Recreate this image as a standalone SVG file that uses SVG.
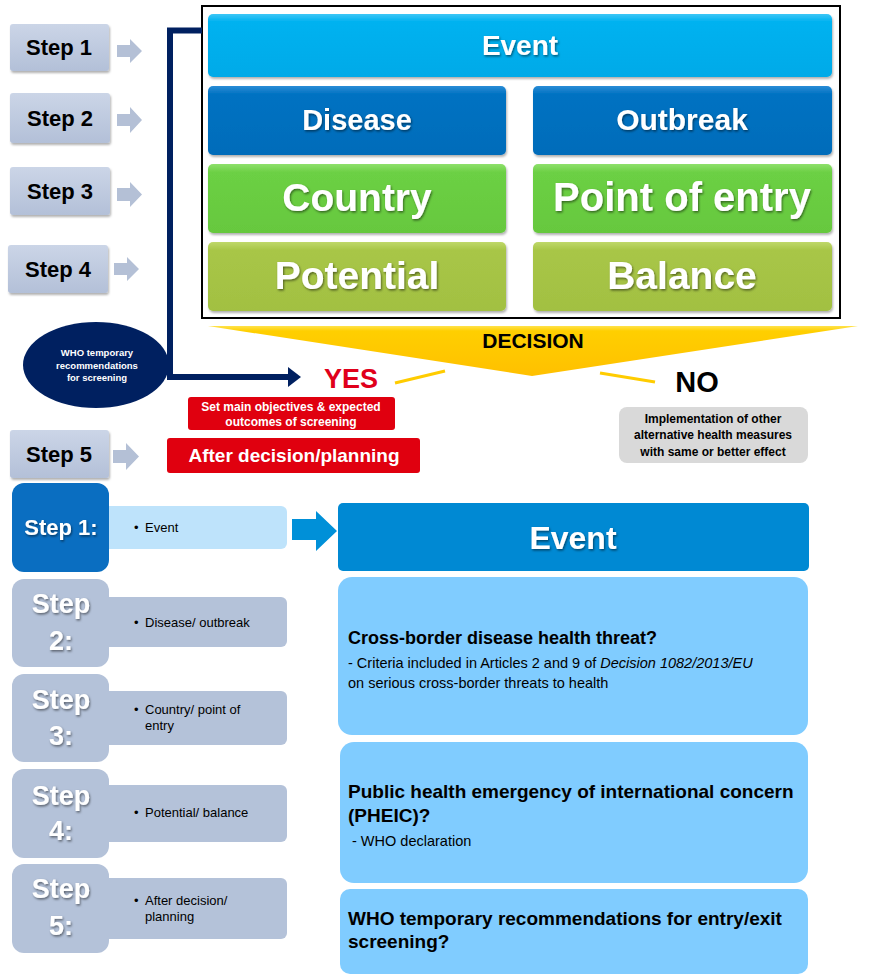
<svg xmlns="http://www.w3.org/2000/svg" width="871" height="980" viewBox="0 0 871 980">
<defs>
<style>
text{font-family:"Liberation Sans",Arial,sans-serif;}
.b{font-weight:bold;}
.step{fill:url(#gStep);}
.stxt{font-weight:bold;font-size:22px;fill:#000;text-anchor:middle;}
.sarr{fill:#B4C0D6;}
.wt{fill:#fff;font-weight:bold;text-anchor:middle;filter:url(#tsh);}
.big{font-size:39px;}
.mid{font-size:28px;}
.lstep{fill:#B4C2D9;}
.lbar{fill:#B4C2D9;}
.ltxt{font-size:13px;fill:#000;}
.lbig{font-size:27px;}
.qbox{fill:#80CCFF;}
.qt{font-weight:bold;font-size:19px;fill:#000;}
.qs{font-size:14.5px;fill:#000;}
.red{fill:#E0000F;}
</style>
<linearGradient id="gStep" x1="0" y1="0" x2="0" y2="1">
<stop offset="0" stop-color="#CBD5E7"/><stop offset="1" stop-color="#B3C0D8"/>
</linearGradient>
<linearGradient id="gEv" x1="0" y1="0" x2="0" y2="1">
<stop offset="0" stop-color="#3CC6F6"/><stop offset="0.12" stop-color="#00B2F0"/><stop offset="1" stop-color="#00AAE8"/>
</linearGradient>
<linearGradient id="gDb" x1="0" y1="0" x2="0" y2="1">
<stop offset="0" stop-color="#2A8CD6"/><stop offset="0.12" stop-color="#0072C2"/><stop offset="1" stop-color="#006CBA"/>
</linearGradient>
<linearGradient id="gGr" x1="0" y1="0" x2="0" y2="1">
<stop offset="0" stop-color="#8EE06C"/><stop offset="0.12" stop-color="#6CD044"/><stop offset="1" stop-color="#66C83E"/>
</linearGradient>
<linearGradient id="gOl" x1="0" y1="0" x2="0" y2="1">
<stop offset="0" stop-color="#BFD86A"/><stop offset="0.12" stop-color="#A8C647"/><stop offset="1" stop-color="#A2C042"/>
</linearGradient>
<linearGradient id="gYel" x1="0" y1="0" x2="0" y2="1">
<stop offset="0" stop-color="#FFE24A"/><stop offset="0.1" stop-color="#FFCF00"/><stop offset="1" stop-color="#FFC000"/>
</linearGradient>
<filter id="sh" x="-5%" y="-10%" width="110%" height="130%">
<feDropShadow dx="1" dy="2" stdDeviation="1.2" flood-color="#000" flood-opacity="0.3"/>
</filter>
<filter id="tsh" x="-10%" y="-20%" width="120%" height="150%">
<feDropShadow dx="1" dy="1.5" stdDeviation="0.8" flood-color="#000" flood-opacity="0.5"/>
</filter>
<marker id="navyHead" markerUnits="userSpaceOnUse" markerWidth="14" markerHeight="20" refX="2" refY="10" orient="auto">
<polygon points="0,0 13,10 0,20" fill="#002060"/>
</marker>
</defs>
<rect width="871" height="980" fill="#fff"/>

<!-- Top step boxes -->
<g id="top-step1"><rect class="step" x="10" y="24" width="99" height="47" rx="3" filter="url(#sh)"/><text class="stxt" x="59" y="55">Step 1</text></g>
<g id="top-step2"><rect class="step" x="10" y="93" width="100" height="50" rx="3" filter="url(#sh)"/><text class="stxt" x="60" y="126">Step 2</text></g>
<g id="top-step3"><rect class="step" x="10" y="167" width="100" height="48" rx="3" filter="url(#sh)"/><text class="stxt" x="60" y="199">Step 3</text></g>
<g id="top-step4"><rect class="step" x="8" y="245" width="100" height="48" rx="3" filter="url(#sh)"/><text class="stxt" x="58" y="277">Step 4</text></g>
<g id="top-step5"><rect class="step" x="10" y="430" width="99" height="48" rx="3" filter="url(#sh)"/><text class="stxt" x="59" y="462">Step 5</text></g>

<!-- Frame and criteria boxes -->
<g id="frame"><rect x="202" y="6" width="638" height="312" fill="#fff" stroke="#000" stroke-width="2"/></g>
<g id="event-top"><rect x="208" y="14" width="624" height="63" rx="5" fill="url(#gEv)" filter="url(#sh)"/><text class="wt mid" x="520" y="55">Event</text></g>
<g id="disease"><rect x="208" y="86" width="298" height="69" rx="5" fill="url(#gDb)" filter="url(#sh)"/><text class="wt mid" x="357" y="130" style="font-size:29px">Disease</text></g>
<g id="outbreak"><rect x="533" y="86" width="299" height="69" rx="5" fill="url(#gDb)" filter="url(#sh)"/><text class="wt mid" x="682" y="130" style="font-size:30px">Outbreak</text></g>
<g id="country"><rect x="208" y="164" width="298" height="69" rx="5" fill="url(#gGr)" filter="url(#sh)"/><text class="wt big" x="357" y="211">Country</text></g>
<g id="point-of-entry"><rect x="533" y="164" width="299" height="69" rx="5" fill="url(#gGr)" filter="url(#sh)"/><text class="wt big" x="682" y="211" style="font-size:40px">Point of entry</text></g>
<g id="potential"><rect x="208" y="242" width="298" height="69" rx="5" fill="url(#gOl)" filter="url(#sh)"/><text class="wt big" x="357" y="289">Potential</text></g>
<g id="balance"><rect x="533" y="242" width="299" height="69" rx="5" fill="url(#gOl)" filter="url(#sh)"/><text class="wt big" x="682" y="289">Balance</text></g>

<!-- Decision -->
<g id="decision"><polygon points="208,326 858,326 532,376" fill="url(#gYel)"/><text class="b" x="533" y="348" font-size="21" text-anchor="middle" fill="#000">DECISION</text></g>

<!-- WHO ellipse -->
<g id="who-ellipse"><ellipse cx="96" cy="365" rx="73" ry="43" fill="#002060"/>
<text class="b" x="97" y="356" font-size="9.5" fill="#fff" text-anchor="middle">WHO temporary</text>
<text class="b" x="97" y="368.5" font-size="9.5" fill="#fff" text-anchor="middle">recommendations</text>
<text class="b" x="97" y="381" font-size="9.5" fill="#fff" text-anchor="middle">for screening</text></g>

<g id="yes"><text class="b" x="351" y="388" font-size="27" fill="#E0001B" text-anchor="middle">YES</text></g>
<g id="no"><text class="b" x="697" y="392" font-size="29" fill="#000" text-anchor="middle">NO</text></g>
<g id="objectives"><rect class="red" x="188" y="397" width="207" height="33" rx="3"/>
<text class="b" x="291" y="411" font-size="12" fill="#fff" text-anchor="middle">Set main objectives &amp; expected</text>
<text class="b" x="291" y="426" font-size="12" fill="#fff" text-anchor="middle">outcomes of screening</text></g>
<g id="after-decision"><rect class="red" x="167" y="438" width="253" height="35" rx="3"/><text class="b" x="294" y="462" font-size="19" fill="#fff" text-anchor="middle">After decision/planning</text></g>
<g id="alternative"><rect x="619" y="407" width="189" height="56" rx="8" fill="#D9D9D9"/>
<text class="b" x="713" y="423" font-size="12" fill="#000" text-anchor="middle">Implementation of other</text>
<text class="b" x="713" y="439" font-size="12" fill="#000" text-anchor="middle">alternative health measures</text>
<text class="b" x="713" y="456" font-size="12" fill="#000" text-anchor="middle">with same or better effect</text></g>

<!-- Lower steps -->
<g id="low-step1"><rect x="100" y="506" width="187" height="43" rx="6" fill="#BEE3FB"/><rect x="12" y="483" width="97" height="89" rx="12" fill="#0A6EC1"/>
<text class="wt" x="61" y="535" font-size="22">Step 1:</text><text class="ltxt" x="134" y="532">•<tspan x="145">Event</tspan></text></g>
<g id="low-step2"><rect class="lbar" x="100" y="597" width="187" height="50" rx="6"/><rect class="lstep" x="12" y="579" width="97" height="88" rx="12"/>
<text class="wt lbig" x="61" y="613">Step</text><text class="wt lbig" x="61" y="650">2:</text><text class="ltxt" x="134" y="627">•<tspan x="145">Disease/ outbreak</tspan></text></g>
<g id="low-step3"><rect class="lbar" x="100" y="691" width="187" height="54" rx="6"/><rect class="lstep" x="12" y="674" width="97" height="88" rx="12"/>
<text class="wt lbig" x="61" y="709">Step</text><text class="wt lbig" x="61" y="745">3:</text><text class="ltxt" x="134" y="714">•<tspan x="145">Country/ point of</tspan></text><text class="ltxt" x="145" y="730">entry</text></g>
<g id="low-step4"><rect class="lbar" x="100" y="785" width="187" height="57" rx="6"/><rect class="lstep" x="12" y="769" width="97" height="89" rx="12"/>
<text class="wt lbig" x="61" y="805">Step</text><text class="wt lbig" x="61" y="840">4:</text><text class="ltxt" x="134" y="817">•<tspan x="145">Potential/ balance</tspan></text></g>
<g id="low-step5"><rect class="lbar" x="100" y="878" width="187" height="61" rx="6"/><rect class="lstep" x="12" y="864" width="97" height="89" rx="12"/>
<text class="wt lbig" x="61" y="898">Step</text><text class="wt lbig" x="61" y="935">5:</text><text class="ltxt" x="134" y="905">•<tspan x="145">After decision/</tspan></text><text class="ltxt" x="145" y="921">planning</text></g>

<!-- Lower right -->
<g id="event-low"><rect x="338" y="503" width="471" height="68" rx="5" fill="#0089D3"/><text class="wt" x="573" y="549" font-size="32">Event</text></g>
<g id="cross-border"><rect class="qbox" x="338" y="577" width="470" height="158" rx="14"/>
<text class="qt" x="348" y="644" style="font-size:18px">Cross-border disease health threat?</text>
<text class="qs" x="348" y="668">- Criteria included in Articles 2 and 9 of <tspan font-style="italic">Decision 1082/2013/EU</tspan></text>
<text class="qs" x="348" y="688">on serious cross-border threats to health</text></g>
<g id="pheic"><rect class="qbox" x="340" y="742" width="468" height="141" rx="14"/>
<text class="qt" x="348" y="798">Public health emergency of international concern</text>
<text class="qt" x="348" y="822">(PHEIC)?</text>
<text class="qs" x="352" y="846">- WHO declaration</text></g>
<g id="who-recs"><rect class="qbox" x="340" y="889" width="468" height="85" rx="10"/>
<text class="qt" x="348" y="925">WHO temporary recommendations for entry/exit</text>
<text class="qt" x="348" y="948">screening?</text></g>

<!-- Connectors -->
<g id="connectors">
<path class="sarr" d="M117,45 H130 V39 L142,51 L130,63 V57 H117 Z"/>
<path class="sarr" d="M117,114 H130 V107 L142,120 L130,133 V126 H117 Z"/>
<path class="sarr" d="M117,188 H130 V182 L142,194.5 L130,207 V201 H117 Z"/>
<path class="sarr" d="M114,263 H127 V257 L139,269 L127,281 V275 H114 Z"/>
<path class="sarr" d="M113,450 H126 V443 L139,456.5 L126,470 V463 H113 Z"/>
<path d="M202,30.5 H170 V377 H290" fill="none" stroke="#002060" stroke-width="6" marker-end="url(#navyHead)"/>
<line x1="395" y1="383" x2="445" y2="371" stroke="#FFCC00" stroke-width="3"/>
<line x1="600" y1="373" x2="655" y2="382" stroke="#FFCC00" stroke-width="3"/>
<path d="M292,519 H316 V511 L337,531 L316,551 V540 H292 Z" fill="#0090D8"/>
</g>
</svg>
